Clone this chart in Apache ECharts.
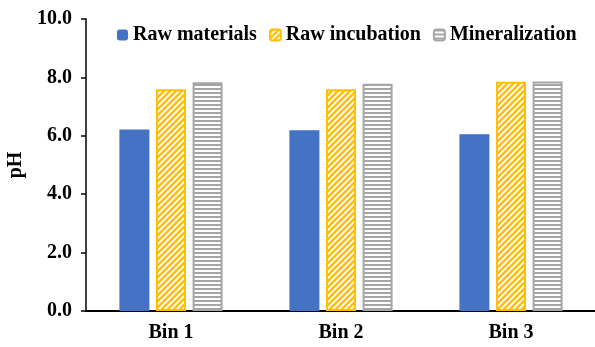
<!DOCTYPE html>
<html>
<head>
<meta charset="utf-8">
<script src="https://cdn.jsdelivr.net/npm/echarts@6/dist/echarts.min.js"></script>
<style>
html,body{margin:0;padding:0;background:#fff;}
#chart{width:595px;height:347px;}
</style>
</head>
<body>
<div id="chart"></div>
<script>
// pH of each bin at three stages
const categories = ['Bin 1', 'Bin 2', 'Bin 3'];
const rawMaterials = [6.22, 6.19, 6.05];
const rawIncubation = [7.59, 7.59, 7.85];
const mineralization = [7.83, 7.78, 7.86];
const yTicks = [0, 2, 4, 6, 8, 10];

// diagonal white stripes on yellow
function stripePattern() {
  const c = document.createElement('canvas');
  c.width = 6; c.height = 6;
  const g = c.getContext('2d');
  g.fillStyle = '#FFC000';
  g.fillRect(0, 0, 6, 6);
  g.strokeStyle = '#ffffff';
  g.lineWidth = 1.8;
  g.beginPath();
  g.moveTo(-1, 7); g.lineTo(7, -1);
  g.moveTo(-4, 4); g.lineTo(4, -4);
  g.moveTo(2, 10); g.lineTo(10, 2);
  g.stroke();
  return c;
}
// horizontal gray lines on white
function linePattern() {
  const c = document.createElement('canvas');
  c.width = 4; c.height = 4;
  const g = c.getContext('2d');
  g.fillStyle = '#ffffff';
  g.fillRect(0, 0, 4, 4);
  g.fillStyle = '#A5A5A5';
  g.fillRect(0, 0, 4, 2);
  return c;
}

const chart = echarts.init(document.getElementById('chart'), null, {renderer: 'canvas'});
const font = '"Liberation Serif", "Times New Roman", serif';

chart.setOption({
  animation: false,
  textStyle: {fontFamily: font},
  legend: {
    top: 20,
    left: 112,
    itemWidth: 11,
    itemHeight: 11,
    itemGap: 12,
    textStyle: {fontFamily: font, fontSize: 20, fontWeight: 'bold', color: '#000'},
    data: ['Raw materials', 'Raw incubation', 'Mineralization']
  },
  grid: {left: 86, right: -1, top: 19, bottom: 36, containLabel: false, outerBoundsMode: 'none'},
  xAxis: {
    type: 'category',
    data: categories,
    axisLine: {lineStyle: {color: '#000', width: 2}},
    axisTick: {show: false},
    axisLabel: {fontFamily: font, fontSize: 20, fontWeight: 'bold', color: '#000', margin: 12}
  },
  yAxis: {
    type: 'value',
    min: yTicks[0],
    max: yTicks[yTicks.length - 1],
    interval: 2,
    name: 'pH',
    nameLocation: 'middle',
    nameGap: 60,
    nameTextStyle: {fontFamily: font, fontSize: 20, fontWeight: 'bold', color: '#000'},
    axisLine: {show: true, lineStyle: {color: '#000', width: 1.5}},
    axisTick: {show: true, length: 5, lineStyle: {color: '#000', width: 1.5}},
    splitLine: {show: false},
    axisLabel: {fontFamily: font, fontSize: 20, fontWeight: 'bold', color: '#000', margin: 14,
      formatter: v => v.toFixed(1)}
  },
  series: [
    {
      name: 'Raw materials', type: 'bar', data: rawMaterials,
      barWidth: 30, barGap: '22%',
      itemStyle: {color: '#4472C4'}
    },
    {
      name: 'Raw incubation', type: 'bar', data: rawIncubation,
      barWidth: 30, barGap: '22%',
      itemStyle: {color: {image: stripePattern(), repeat: 'repeat'}, borderColor: '#FFC000', borderWidth: 2}
    },
    {
      name: 'Mineralization', type: 'bar', data: mineralization,
      barWidth: 30, barGap: '22%',
      itemStyle: {color: {image: linePattern(), repeat: 'repeat'}, borderColor: '#A5A5A5', borderWidth: 2}
    }
  ]
});
</script>
</body>
</html>
